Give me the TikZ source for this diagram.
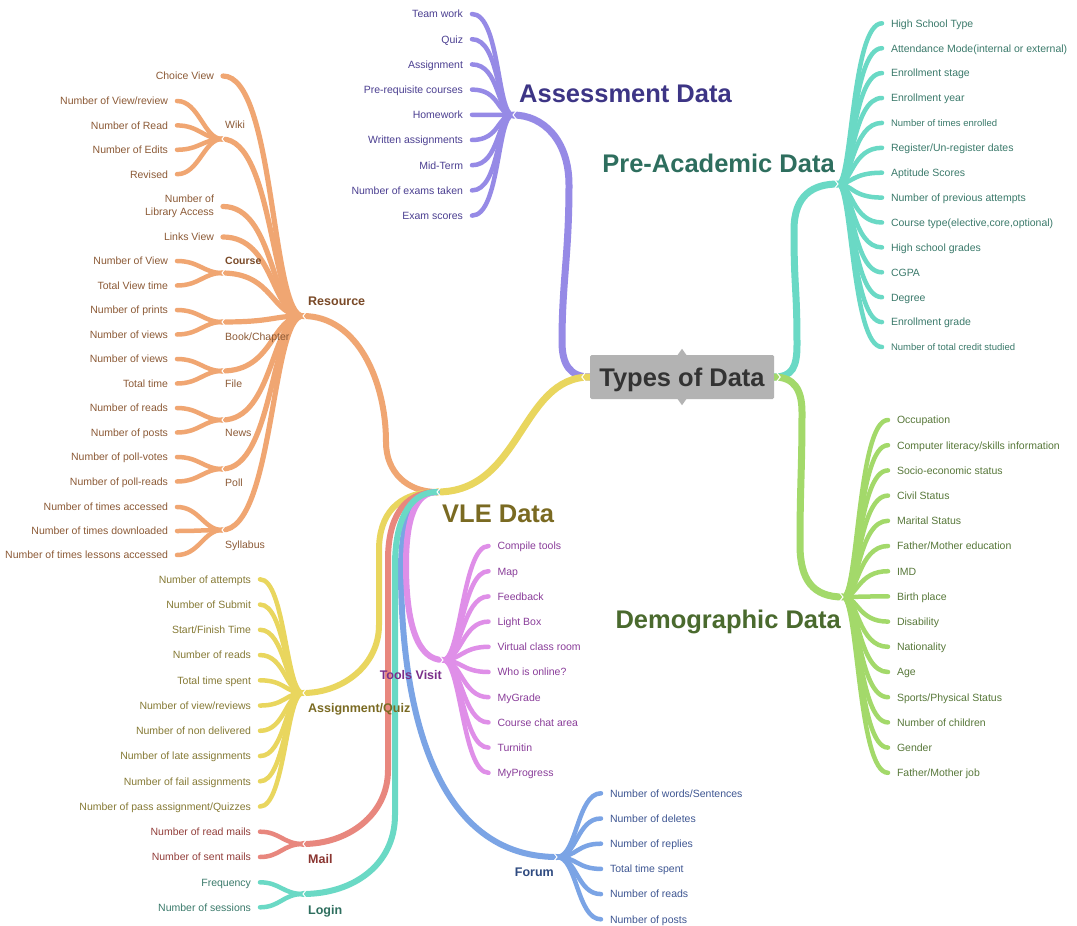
\documentclass[tikz,border=0pt]{standalone}
\usepackage{fontspec}
\setmainfont{Liberation Sans}
\usetikzlibrary{calc}
\pgfdeclarelayer{back}
\pgfdeclarelayer{bg}
\pgfsetlayers{back,bg,main}

% branch colours
\definecolor{cPurple}{HTML}{968AE6}
\definecolor{cTeal}{HTML}{6AD9C5}
\definecolor{cGreen}{HTML}{A3D96A}
\definecolor{cYellow}{HTML}{E9D65E}
\definecolor{cOrange}{HTML}{F0A672}
\definecolor{cRed}{HTML}{E8877E}
\definecolor{cBlue}{HTML}{7BA4E5}
\definecolor{cPink}{HTML}{DF8FE8}
\definecolor{cGray}{HTML}{B3B3B3}
\definecolor{cDark}{HTML}{333333}
% text colours
\definecolor{tPurple}{HTML}{4B3F91}
\definecolor{tPurpleD}{HTML}{3D3585}
\definecolor{tTeal}{HTML}{3B7A6B}
\definecolor{tTealD}{HTML}{2E6E5E}
\definecolor{tGreen}{HTML}{58783A}
\definecolor{tGreenD}{HTML}{4A6A2E}
\definecolor{tOlive}{HTML}{867A35}
\definecolor{tOliveD}{HTML}{7A6A22}
\definecolor{tBrown}{HTML}{8C5A36}
\definecolor{tBrownD}{HTML}{7A4A28}
\definecolor{tRed}{HTML}{933F3B}
\definecolor{tRedD}{HTML}{8A3530}
\definecolor{tPink}{HTML}{8A3D9A}
\definecolor{tPinkD}{HTML}{7A2E8A}
\definecolor{tBlue}{HTML}{3E5692}
\definecolor{tBlueD}{HTML}{2E4A80}

\tikzset{
  every node/.style={inner sep=0pt},
  lf/.style={outer xsep=9pt, text height=7.6pt, text depth=0pt, font=\fontsize{10.5}{12.5}\selectfont},
  leafL/.style={lf, anchor=east},
  leafR/.style={lf, anchor=west},
  twig/.style={line width=4.5pt, line cap=round},
  bough/.style={line width=5.2pt, line cap=round},
  limb/.style={line width=6pt, line cap=round},
  stem/.style={line width=7pt, line cap=round},
  sublab/.style={anchor=west, text height=7.6pt, text depth=0pt, font=\fontsize{10.5}{12.5}\selectfont},
  hublab/.style={text height=9pt, text depth=0pt, font=\bfseries\fontsize{12.5}{15}\selectfont},
  bigtitle/.style={text height=18.3pt, text depth=0pt, font=\bfseries\fontsize{25.5}{30}\selectfont},
  chevL/.pic={\draw[white, line width=1pt] (3.5,-4.5) -- (0,0) -- (3.5,4.5);},
  chevR/.pic={\draw[white, line width=1pt] (-3.5,-4.5) -- (0,0) -- (-3.5,4.5);},
}

% two leaves hanging from a Resource sub-hub
\newcommand\twoleaf[4]{%
  \node[leafL, text=tBrown] (#1a) at (177,#2-12) {#3};
  \node[leafL, text=tBrown] (#1b) at (177,#2+12.5) {#4};
  \begin{pgfonlayer}{bg}
    \draw[twig, cOrange] (#1Hub) .. controls +(-18,0) and +(22,0) .. (#1a.east);
    \draw[twig, cOrange] (#1Hub) .. controls +(-18,0) and +(22,0) .. (#1b.east);
  \end{pgfonlayer}}

\begin{document}
\begin{tikzpicture}[x=1pt,y=-1pt]
\begin{pgfonlayer}{back}
  \fill[white] (0,0) rectangle (1077,926);
\end{pgfonlayer}
\useasboundingbox (0,0) rectangle (1077,926);

% ---------- hubs ----------
\coordinate (asHub) at (513,115);
\coordinate (paHub) at (838,184);
\coordinate (dmHub) at (843,597);
\coordinate (vleHub) at (437,492);
\coordinate (rsHub) at (303,316);
\coordinate (aqHub) at (303,693);
\coordinate (mlHub) at (303,844);
\coordinate (lgHub) at (303,894);
\coordinate (tvHub) at (443,660);
\coordinate (fmHub) at (557,857);
\foreach \nm/\y in {wk/139,co/273,bk/322,fi/371,nw/420,pl/469,sy/530}{\coordinate (\nm Hub) at (222,\y);}

% ---------- central topic ----------
\node[fill=cGray, text=cDark, minimum width=184pt, minimum height=44pt, rounded corners=1.5pt, bigtitle] (ctr) at (682,377) {Types of Data};
\fill[cGray] ($(ctr.north)+(-5,1)$) -- ($(ctr.north)+(0,-6)$) -- ($(ctr.north)+(5,1)$) -- cycle;
\fill[cGray] ($(ctr.south)+(-5,-1)$) -- ($(ctr.south)+(0,6)$) -- ($(ctr.south)+(5,-1)$) -- cycle;

% ---------- main branches ----------
\begin{pgfonlayer}{bg}
\draw[stem, cPurple] (ctr.west) .. controls +(-20,0) and +(0,22) .. (562,342) .. controls +(0,-60) and +(0,70) .. (569,185) .. controls +(0,-45) and +(30,0) .. (asHub);
\draw[stem, cTeal] (ctr.east) .. controls +(18,0) and +(0,22) .. (797,345) .. controls +(0,-60) and +(0,60) .. (794,230) .. controls +(0,-35) and +(-25,0) .. (paHub);
\draw[stem, cGreen] (ctr.east) .. controls +(20,0) and +(0,-22) .. (802,412) .. controls +(0,60) and +(0,-60) .. (800,545) .. controls +(0,35) and +(-30,0) .. (dmHub);
\draw[stem, cYellow] (ctr.west) .. controls +(-70,0) and +(85,0) .. (vleHub);
% VLE sub-branches
\draw[limb, cOrange] (vleHub) .. controls +(-30,0) and +(0,30) .. (386,442) .. controls +(0,-60) and +(55,0) .. (rsHub);
\draw[limb, cYellow] (vleHub) .. controls +(-40,0) and +(0,-35) .. (379,550) -- (379,625) .. controls +(0,40) and +(40,0) .. (aqHub);
\draw[limb, cRed] (vleHub) .. controls +(-35,0) and +(0,-40) .. (388,560) -- (388,770) .. controls +(0,45) and +(45,0) .. (mlHub);
\draw[limb, cBlue] (vleHub) .. controls +(-26,0) and +(0,-45) .. (401,570) .. controls +(0,120) and +(-130,0) .. (fmHub);
\draw[limb, cPink] (vleHub) .. controls +(-22,0) and +(0,-45) .. (406,565) .. controls +(0,60) and +(-25,0) .. (tvHub);
\draw[limb, cTeal] (vleHub) .. controls +(-30,0) and +(0,-40) .. (395,565) -- (395,815) .. controls +(0,50) and +(50,0) .. (lgHub);
\end{pgfonlayer}

% ---------- titles ----------
\node[bigtitle, text=tPurpleD, anchor=west] (asTitle) at (519,93) {Assessment Data};
\node[bigtitle, text=tTealD, anchor=east] (paTitle) at (835,163) {Pre-Academic Data};
\node[bigtitle, text=tGreenD, anchor=east] (dmTitle) at (841,619) {Demographic Data};
\node[bigtitle, text=tOliveD, anchor=west] (vleTitle) at (442,513) {VLE Data};

% ---------- hub labels ----------
\node[hublab, text=tBrownD, anchor=west] (rsLab) at (308,301) {Resource};
\node[hublab, text=tOliveD, anchor=west] (aqLab) at (308,708) {Assignment/Quiz};
\node[hublab, text=tRedD, anchor=west] (mlLab) at (308,859) {Mail};
\node[hublab, text=tTealD, anchor=west] (lgLab) at (308,910) {Login};
\node[hublab, text=tPinkD, anchor=east] (tvLab) at (442,675) {Tools Visit};
\node[hublab, text=tBlueD, anchor=east] (fmLab) at (554,872) {Forum};

% ---------- Assessment Data ----------
\foreach \t [count=\i] in {Team work,Quiz,Assignment,Pre-requisite courses,Homework,Written assignments,Mid-Term,Number of exams taken,Exam scores}{
  \node[leafL, text=tPurple] (as\i) at (472,{14+25.2*(\i-1)}) {\t};
  \begin{pgfonlayer}{bg}\draw[twig, cPurple] (asHub) .. controls +(-16,0) and +(28,0) .. (as\i.east);\end{pgfonlayer}
}

% ---------- Pre-Academic Data ----------
\foreach \t [count=\i] in {High School Type,Attendance Mode(internal or external),Enrollment stage,Enrollment year,{\fontsize{9.5}{11}\selectfont Number of times enrolled},Register/Un-register dates,Aptitude Scores,Number of previous attempts,{Course type(elective,core,optional)},High school grades,CGPA,Degree,Enrollment grade,{\fontsize{9.5}{11}\selectfont Number of total credit studied}}{
  \node[leafR, text=tTeal] (pa\i) at (882,{23.3+24.9*(\i-1)}) {\t};
  \begin{pgfonlayer}{bg}\draw[twig, cTeal] (paHub) .. controls +(14,0) and +(-30,0) .. (pa\i.west);\end{pgfonlayer}
}

% ---------- Demographic Data ----------
\foreach \t [count=\i] in {Occupation,Computer literacy/skills information,Socio-economic status,Civil Status,Marital Status,Father/Mother education,IMD,Birth place,Disability,Nationality,Age,Sports/Physical Status,Number of children,Gender,Father/Mother job}{
  \node[leafR, text=tGreen] (dm\i) at (888,{420+25.2*(\i-1)}) {\t};
  \begin{pgfonlayer}{bg}\draw[twig, cGreen] (dmHub) .. controls +(15,0) and +(-30,0) .. (dm\i.west);\end{pgfonlayer}
}

% ---------- Tools Visit ----------
\foreach \t [count=\i] in {Compile tools,Map,Feedback,Light Box,Virtual class room,Who is online?,MyGrade,Course chat area,Turnitin,MyProgress}{
  \node[leafR, text=tPink] (tv\i) at (488.5,{546+25.2*(\i-1)}) {\t};
  \begin{pgfonlayer}{bg}\draw[twig, cPink] (tvHub) .. controls +(18,0) and +(-26,0) .. (tv\i.west);\end{pgfonlayer}
}

% ---------- Forum ----------
\foreach \t [count=\i] in {Number of words/Sentences,Number of deletes,Number of replies,Total time spent,Number of reads,Number of posts}{
  \node[leafR, text=tBlue] (fm\i) at (601,{793.3+25.2*(\i-1)}) {\t};
  \begin{pgfonlayer}{bg}\draw[twig, cBlue] (fmHub) .. controls +(20,0) and +(-24,0) .. (fm\i.west);\end{pgfonlayer}
}

% ---------- Assignment/Quiz ----------
\foreach \t [count=\i] in {Number of attempts,Number of Submit,Start/Finish Time,Number of reads,Total time spent,Number of view/reviews,Number of non delivered,Number of late assignments,Number of fail assignments,Number of pass assignment/Quizzes}{
  \node[leafL, text=tOlive] (aq\i) at (260,{579.3+25.25*(\i-1)}) {\t};
  \begin{pgfonlayer}{bg}\draw[twig, cYellow] (aqHub) .. controls +(-17,0) and +(25,0) .. (aq\i.east);\end{pgfonlayer}
}

% ---------- Mail and Login ----------
\node[leafL, text=tRed] (ml1) at (260,831.7) {Number of read mails};
\node[leafL, text=tRed] (ml2) at (260,857) {Number of sent mails};
\node[leafL, text=tTeal] (lg1) at (260,882.3) {Frequency};
\node[leafL, text=tTeal] (lg2) at (260,907.3) {Number of sessions};
\begin{pgfonlayer}{bg}
\foreach \i in {1,2}{
  \draw[twig, cRed] (mlHub) .. controls +(-20,0) and +(20,0) .. (ml\i.east);
  \draw[twig, cTeal] (lgHub) .. controls +(-20,0) and +(20,0) .. (lg\i.east);
}
\end{pgfonlayer}

% ---------- Resource ----------
\node[leafL, text=tBrown] (choice) at (223,76) {Choice View};
\node[outer xsep=9pt, anchor=east, align=right, text=tBrown, font=\fontsize{10.5}{13}\selectfont] (library) at (223,206.5) {Number of\\Library Access};
\node[leafL, text=tBrown] (links) at (223,237) {Links View};
\begin{pgfonlayer}{bg}
\foreach \nm in {choice,library,links}{
  \draw[bough, cOrange] (rsHub) .. controls +(-32,0) and +(52,0) .. (\nm.east);
}
\foreach \nm in {wk,co,bk,fi,nw,pl,sy}{
  \draw[bough, cOrange] (rsHub) .. controls +(-32,0) and +(52,0) .. (\nm Hub);
}
\end{pgfonlayer}

\node[sublab, text=tBrown] (wkLab) at (225,125) {Wiki};
\node[sublab, text=tBrownD, font=\bfseries\fontsize{10.5}{12.5}\selectfont] (coLab) at (225,261) {Course};
\node[sublab, text=tBrown] (bkLab) at (225,337) {Book/Chapter};
\node[sublab, text=tBrown] (fiLab) at (225,384) {File};
\node[sublab, text=tBrown] (nwLab) at (225,433) {News};
\node[sublab, text=tBrown] (plLab) at (225,483) {Poll};
\node[sublab, text=tBrown] (syLab) at (225,545) {Syllabus};

\foreach \t [count=\i] in {Number of View/review,Number of Read,Number of Edits,Revised}{
  \node[leafL, text=tBrown] (wk\i) at (177,{101+24.4*(\i-1)}) {\t};
  \begin{pgfonlayer}{bg}\draw[twig, cOrange] (wkHub) .. controls +(-18,0) and +(22,0) .. (wk\i.east);\end{pgfonlayer}
}
\twoleaf{co}{273}{Number of View}{Total View time}
\twoleaf{bk}{322}{Number of prints}{Number of views}
\twoleaf{fi}{371}{Number of views}{Total time}
\twoleaf{nw}{420}{Number of reads}{Number of posts}
\twoleaf{pl}{469}{Number of poll-votes}{Number of poll-reads}
\foreach \t [count=\i] in {Number of times accessed,Number of times downloaded,Number of times lessons accessed}{
  \node[leafL, text=tBrown] (sy\i) at (177,{507+24*(\i-1)}) {\t};
  \begin{pgfonlayer}{bg}\draw[twig, cOrange] (syHub) .. controls +(-18,0) and +(22,0) .. (sy\i.east);\end{pgfonlayer}
}

% ---------- junction marks ----------
\foreach \h in {asHub,vleHub,rsHub,aqHub,mlHub,lgHub,wkHub,coHub,bkHub,fiHub,nwHub,plHub,syHub}{\pic at (\h) {chevL};}
\foreach \h in {paHub,dmHub,tvHub,fmHub}{\pic at (\h) {chevR};}
\pic at ($(ctr.west)+(-8,0)$) {chevL};
\pic at ($(ctr.east)+(6,0)$) {chevR};
\end{tikzpicture}
\end{document}
